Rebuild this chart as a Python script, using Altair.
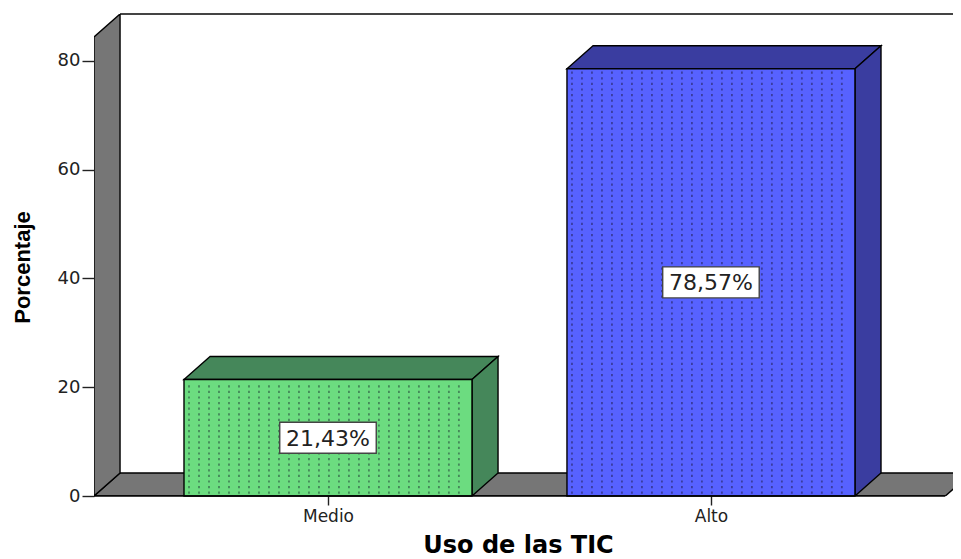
import altair as alt
import pandas as pd

categories = ["Medio", "Alto"]
positions = [1, 2]
values = [21.43, 78.57]
labels = ["21,43%", "78,57%"]
front_colors = ["#6cdc80", "#5762ff"]
side_colors = ["#45875a", "#3a3da0"]
y_ticks = [0, 20, 40, 60, 80]

X_MIN, X_MAX = 0.389, 2.632
FLOOR_END = 2.612
Y_MAX = 88.64
DX, DY = 0.068, 4.23      # oblique depth of the 3-D look
BAR_HALF = 0.376
WALL_TOP = 84.41
BOX_HALF_W, BOX_HALF_H = 0.126, 2.85
GREY = "#767676"

xs = alt.Scale(domain=[X_MIN, X_MAX], nice=False, zero=False)
ys = alt.Scale(domain=[0, Y_MAX], nice=False, zero=False)

x_axis = alt.Axis(
    values=positions, labelExpr="datum.value == 1 ? 'Medio' : 'Alto'",
    title="Uso de las TIC", titleFont="DejaVu Sans", titleFontSize=24, titleFontWeight="bold",
    titleColor="#000000", titleX=424, titleY=56, titleBaseline="alphabetic",
    labelFont="DejaVu Sans", labelFontSize=17,
    labelColor="#222222", tickSize=9, tickColor="#222222", tickWidth=1.4, domain=False,
    grid=False, labelPadding=3, labelFlush=False)
y_axis = alt.Axis(
    values=y_ticks, title="Porcentaje", titleFont="Liberation Sans", titleFontSize=22,
    titleFontWeight="bold", titleColor="#000000", titleX=-60, titleY=253,
    labelFont="DejaVu Sans", labelFontSize=18, labelColor="#222222", tickSize=12,
    tickColor="#222222", tickWidth=1.4, domain=False, grid=False, labelPadding=2)


def X(field):
    return alt.X(field, scale=xs, axis=x_axis)


def Y(field):
    return alt.Y(field, scale=ys, axis=y_axis)


def vface(x0, low, high, color):
    """Face whose slanted edges run along x."""
    df = pd.DataFrame({"x": [x0, x0 + DX], "y": [low, low + DY], "y2": [high, high + DY]})
    return alt.Chart(df).mark_area(orient="vertical", color=color, stroke="#000000",
                                   strokeWidth=1.4, clip=True, line=False).encode(
        x=X("x:Q"), y=Y("y:Q"), y2="y2:Q")


def hface(x0, x1, level, color):
    """Face whose slanted edges run along y."""
    df = pd.DataFrame({"x": [x0, x0 + DX], "x2": [x1, x1 + DX], "y": [level, level + DY]})
    return alt.Chart(df).mark_area(orient="horizontal", color=color, stroke="#000000",
                                   strokeWidth=1.4, clip=True).encode(
        x=X("x:Q"), x2="x2:Q", y=Y("y:Q"))


layers = []

# Back edge of the box
edge = pd.DataFrame({"x": [X_MIN + DX], "x2": [X_MAX], "y": [Y_MAX]})
layers.append(alt.Chart(edge).mark_rule(color="#444444", strokeWidth=2).encode(
    x=X("x:Q"), x2="x2:Q", y=Y("y:Q")))

# Wall and floor
layers.append(hface(X_MIN, FLOOR_END, 0, GREY))
layers.append(vface(X_MIN, 0, WALL_TOP, GREY))

# Bars
for pos, val, front, side in zip(positions, values, front_colors, side_colors):
    x0, x1 = pos - BAR_HALF, pos + BAR_HALF
    layers.append(hface(x0, x1, val, side))
    layers.append(vface(x1, 0, val, side))
    front_df = pd.DataFrame({"x": [x0], "x2": [x1], "y": [0], "y2": [val]})
    layers.append(alt.Chart(front_df).mark_rect(color=front, stroke="#000000", strokeWidth=1.4).encode(
        x=X("x:Q"), x2="x2:Q", y=Y("y:Q"), y2="y2:Q"))
    # Dotted texture of the SPSS fill
    cols = [x0 + 0.0261 * (i + 0.5) for i in range(28)]
    dots = pd.DataFrame({"x": cols, "y": [0.4] * len(cols), "y2": [val - 0.4] * len(cols)})
    layers.append(alt.Chart(dots).mark_rule(color=side, strokeWidth=1.8, strokeDash=[2.2, 3.4], opacity=1).encode(
        x=X("x:Q"), y=Y("y:Q"), y2="y2:Q"))

# Baseline
base = pd.DataFrame({"x": [X_MIN], "x2": [FLOOR_END], "y": [0]})
layers.append(alt.Chart(base).mark_rule(color="#000000", strokeWidth=1.6).encode(
    x=X("x:Q"), x2="x2:Q", y=Y("y:Q")))

# Value labels
lab = pd.DataFrame({"x": positions, "v": values, "text": labels})
lab["mid"] = lab["v"] / 2
lab["x0"], lab["x1"] = lab["x"] - BOX_HALF_W, lab["x"] + BOX_HALF_W
lab["y0"], lab["y1"] = lab["mid"] - BOX_HALF_H, lab["mid"] + BOX_HALF_H
layers.append(alt.Chart(lab).mark_rect(color="#ffffff", stroke="#444444", strokeWidth=1.4).encode(
    x=X("x0:Q"), x2="x1:Q", y=Y("y0:Q"), y2="y1:Q"))
layers.append(alt.Chart(lab).mark_text(font="DejaVu Sans", fontSize=22, color="#222222", dy=1).encode(
    x=X("x:Q"), y=Y("mid:Q"), text="text:N"))

chart = alt.layer(*layers).properties(
    width=859, height=482,
    autosize=alt.AutoSizeParams(type="none"),
    padding={"left": 86, "top": 6, "right": 0, "bottom": 63},
    background="#ffffff",
).configure_view(stroke=None)

chart.save("out.html", embed_options={"renderer": "svg", "actions": False})
